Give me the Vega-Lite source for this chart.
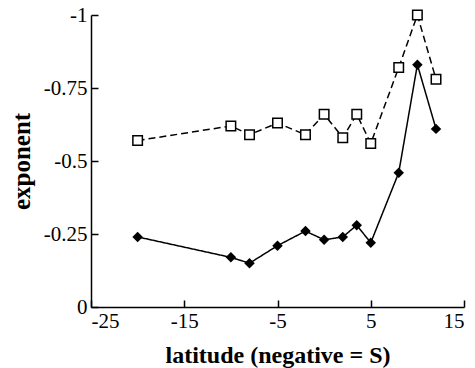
{
  "$schema": "https://vega.github.io/schema/vega-lite/v6.json",
  "width": 373,
  "height": 292,
  "autosize": {"type": "none"},
  "padding": {"left": 91, "top": 15, "right": 11, "bottom": 61},
  "config": {"view": {"stroke": null}, "font": "Liberation Serif"},
  "data": {
    "values": [
      {"series": "open", "lat": -20, "exponent": -0.57},
      {"series": "open", "lat": -10, "exponent": -0.62},
      {"series": "open", "lat": -8, "exponent": -0.59},
      {"series": "open", "lat": -5, "exponent": -0.63},
      {"series": "open", "lat": -2, "exponent": -0.59},
      {"series": "open", "lat": 0, "exponent": -0.66},
      {"series": "open", "lat": 2, "exponent": -0.58},
      {"series": "open", "lat": 3.5, "exponent": -0.66},
      {"series": "open", "lat": 5, "exponent": -0.56},
      {"series": "open", "lat": 8, "exponent": -0.82},
      {"series": "open", "lat": 10, "exponent": -1.0},
      {"series": "open", "lat": 12, "exponent": -0.78},
      {"series": "filled", "lat": -20, "exponent": -0.24},
      {"series": "filled", "lat": -10, "exponent": -0.17},
      {"series": "filled", "lat": -8, "exponent": -0.15},
      {"series": "filled", "lat": -5, "exponent": -0.21},
      {"series": "filled", "lat": -2, "exponent": -0.26},
      {"series": "filled", "lat": 0, "exponent": -0.23},
      {"series": "filled", "lat": 2, "exponent": -0.24},
      {"series": "filled", "lat": 3.5, "exponent": -0.28},
      {"series": "filled", "lat": 5, "exponent": -0.22},
      {"series": "filled", "lat": 8, "exponent": -0.46},
      {"series": "filled", "lat": 10, "exponent": -0.83},
      {"series": "filled", "lat": 12, "exponent": -0.61}
    ]
  },
  "encoding": {
    "x": {
      "field": "lat",
      "type": "quantitative",
      "scale": {"domain": [-25, 15], "nice": false, "zero": false},
      "axis": {
        "values": [-25, -15, -5, 5, 15],
        "labelExpr": "'' + datum.value",
        "labelFontSize": 21,
        "labelColor": "black",
        "labelPadding": 10,
        "domainColor": "black",
        "domainWidth": 1.5,
        "tickColor": "black",
        "tickWidth": 1.5,
        "tickSize": -7,
        "grid": false,
        "title": "latitude (negative = S)",
        "titleFontSize": 24,
        "titleFontWeight": "bold",
        "titleColor": "black",
        "titlePadding": 12
      }
    },
    "y": {
      "field": "exponent",
      "type": "quantitative",
      "scale": {"domain": [-1, 0], "reverse": true, "nice": false, "zero": false},
      "axis": {
        "values": [-1, -0.75, -0.5, -0.25, 0],
        "labelExpr": "'' + datum.value",
        "labelFontSize": 21,
        "labelColor": "black",
        "labelPadding": 11,
        "domainColor": "black",
        "domainWidth": 1.5,
        "tickColor": "black",
        "tickWidth": 1.5,
        "tickSize": -7,
        "grid": false,
        "title": "exponent",
        "titleFontSize": 25,
        "titleFontWeight": "bold",
        "titleColor": "black",
        "titlePadding": 9
      }
    }
  },
  "layer": [
    {
      "mark": {"type": "line", "color": "black", "strokeWidth": 1.5},
      "encoding": {
        "detail": {"field": "series"},
        "strokeDash": {
          "field": "series",
          "type": "nominal",
          "scale": {"domain": ["open", "filled"], "range": [[7, 4], [1, 0]]},
          "legend": null
        }
      }
    },
    {
      "transform": [{"filter": "datum.series == 'open'"}],
      "mark": {"type": "point", "shape": "square", "size": 90, "filled": true, "fill": "white", "stroke": "black", "strokeWidth": 1.5, "opacity": 1}
    },
    {
      "transform": [{"filter": "datum.series == 'filled'"}],
      "mark": {"type": "point", "shape": "diamond", "size": 110, "filled": true, "color": "black", "opacity": 1}
    }
  ]
}
